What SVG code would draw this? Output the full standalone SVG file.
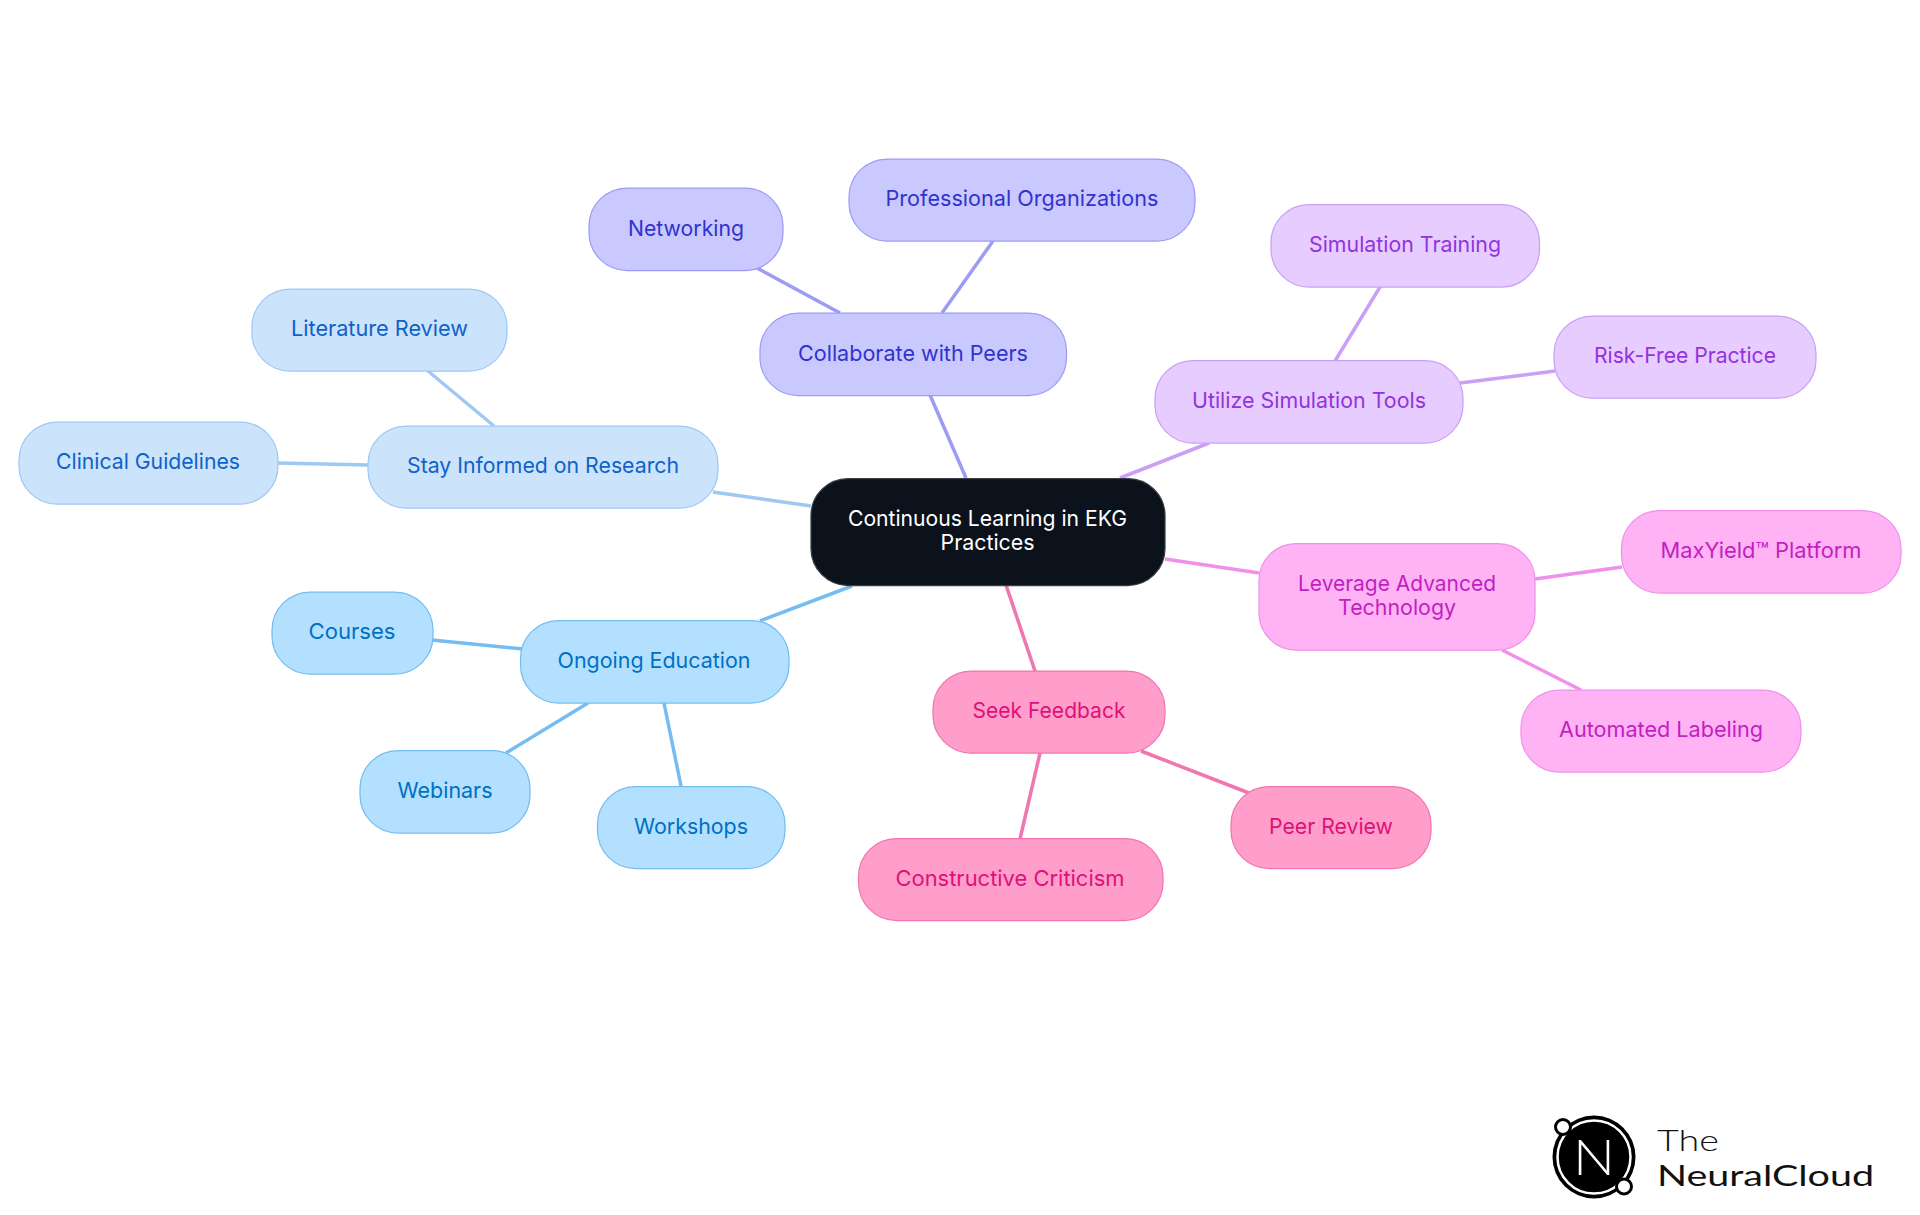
<svg xmlns="http://www.w3.org/2000/svg" width="1920" height="1215" viewBox="0 0 1920 1215">
<style>
text{font-family:"Inter","Noto Sans",sans-serif;font-size:22px;text-anchor:middle;font-weight:380}
rect.b{stroke-width:1.25}
line{stroke-width:3.5;fill:none}
.ce rect{fill:#0b121b;stroke:#3a3f46}.ce text{fill:#fff}
.ed rect{fill:#b3e0ff;stroke:#75bdf0}.ed text{fill:#0070c4}
.re rect{fill:#cce3fc;stroke:#9fc8f3}.re text{fill:#0f62c9}
.co rect{fill:#c9c9ff;stroke:#9c9cf5}.co text{fill:#3232cd}
.si rect{fill:#e6ccff;stroke:#c9a0f5}.si text{fill:#9333dd}
.te rect{fill:#ffb3f5;stroke:#f090ea}.te text{fill:#c21fc2}
.fe rect{fill:#ff9ecb;stroke:#f075b0}.fe text{fill:#e0107a}
.l-ed{stroke:#75bdf0}.l-re{stroke:#9fc8f3}.l-co{stroke:#9c9cf5}.l-si{stroke:#c9a0f5}.l-te{stroke:#f090ea}.l-fe{stroke:#f075b0}
.w{font-family:"Lato",sans-serif;fill:#111;text-anchor:start}
</style>
<rect width="1920" height="1215" fill="#fff"/>
<g id="connectors">
<line class="l-ed" x1="760" y1="621" x2="852" y2="586"/><line class="l-ed" x1="432" y1="640" x2="523" y2="649"/><line class="l-ed" x1="588" y1="703" x2="506" y2="753"/><line class="l-ed" x1="664" y1="703" x2="681" y2="786"/>
<line class="l-re" x1="713" y1="492" x2="811" y2="506"/><line class="l-re" x1="428" y1="371" x2="494" y2="426"/><line class="l-re" x1="278" y1="463" x2="368" y2="465"/>
<line class="l-co" x1="930" y1="395" x2="966" y2="478"/><line class="l-co" x1="757" y1="268" x2="840" y2="313"/><line class="l-co" x1="993" y1="241" x2="942" y2="313"/>
<line class="l-si" x1="1120" y1="478" x2="1209" y2="443"/><line class="l-si" x1="1380" y1="287" x2="1335" y2="361"/><line class="l-si" x1="1460" y1="383" x2="1555" y2="371"/>
<line class="l-te" x1="1165" y1="559" x2="1259" y2="573"/><line class="l-te" x1="1535" y1="579" x2="1622" y2="567"/><line class="l-te" x1="1502" y1="650" x2="1581" y2="690"/>
<line class="l-fe" x1="1006" y1="585" x2="1035" y2="671"/><line class="l-fe" x1="1141" y1="751" x2="1249" y2="793"/><line class="l-fe" x1="1040" y1="753" x2="1020" y2="839"/>
</g>
<g id="center" class="ce"><rect class="b" x="811" y="478.500" width="354" height="107" rx="37"/><text x="987.5" y="526" textLength="279" lengthAdjust="spacingAndGlyphs">Continuous Learning in EKG</text><text x="987.5" y="550" textLength="94" lengthAdjust="spacingAndGlyphs">Practices</text></g>
<g id="stay-informed" class="re"><rect class="b" x="368" y="426" width="350" height="82" rx="38"/><text x="543" y="473" textLength="272" lengthAdjust="spacingAndGlyphs">Stay Informed on Research</text></g>
<g id="literature-review" class="re"><rect class="b" x="252" y="289" width="255" height="82" rx="38"/><text x="379.500" y="336" textLength="177" lengthAdjust="spacingAndGlyphs">Literature Review</text></g>
<g id="clinical-guidelines" class="re"><rect class="b" x="19" y="422" width="259" height="82" rx="38"/><text x="148" y="469" textLength="184" lengthAdjust="spacingAndGlyphs">Clinical Guidelines</text></g>
<g id="collaborate" class="co"><rect class="b" x="760" y="313" width="306.500" height="82.500" rx="38"/><text x="913" y="361" textLength="230" lengthAdjust="spacingAndGlyphs">Collaborate with Peers</text></g>
<g id="networking" class="co"><rect class="b" x="589" y="188" width="194" height="82.500" rx="38"/><text x="686" y="236" textLength="116" lengthAdjust="spacingAndGlyphs">Networking</text></g>
<g id="professional" class="co"><rect class="b" x="849" y="159" width="346" height="82" rx="38"/><text x="1022" y="206" textLength="273" lengthAdjust="spacingAndGlyphs">Professional Organizations</text></g>
<g id="utilize" class="si"><rect class="b" x="1155" y="360.500" width="308" height="82.500" rx="38"/><text x="1309" y="408" textLength="234" lengthAdjust="spacingAndGlyphs">Utilize Simulation Tools</text></g>
<g id="simulation-training" class="si"><rect class="b" x="1271" y="204.500" width="268.500" height="82.500" rx="38"/><text x="1405" y="252" textLength="192" lengthAdjust="spacingAndGlyphs">Simulation Training</text></g>
<g id="risk-free" class="si"><rect class="b" x="1554" y="316" width="262" height="82" rx="38"/><text x="1685" y="363" textLength="182" lengthAdjust="spacingAndGlyphs">Risk-Free Practice</text></g>
<g id="leverage" class="te"><rect class="b" x="1259" y="543.500" width="276" height="106.500" rx="37"/><text x="1397" y="591" textLength="198" lengthAdjust="spacingAndGlyphs">Leverage Advanced</text><text x="1397" y="615" textLength="118" lengthAdjust="spacingAndGlyphs">Technology</text></g>
<g id="maxyield" class="te"><rect class="b" x="1621.500" y="510.500" width="279.500" height="82.500" rx="38"/><text x="1761" y="558" textLength="201" lengthAdjust="spacingAndGlyphs">MaxYield™ Platform</text></g>
<g id="automated" class="te"><rect class="b" x="1521" y="690" width="280" height="82" rx="38"/><text x="1661" y="737" textLength="204" lengthAdjust="spacingAndGlyphs">Automated Labeling</text></g>
<g id="seek" class="fe"><rect class="b" x="933" y="671" width="232" height="82" rx="38"/><text x="1049" y="718" textLength="153" lengthAdjust="spacingAndGlyphs">Seek Feedback</text></g>
<g id="peer-review" class="fe"><rect class="b" x="1231" y="786.500" width="200" height="82" rx="38"/><text x="1331" y="834" textLength="124" lengthAdjust="spacingAndGlyphs">Peer Review</text></g>
<g id="constructive" class="fe"><rect class="b" x="858.500" y="838.500" width="304.500" height="82" rx="38"/><text x="1010" y="886" textLength="229" lengthAdjust="spacingAndGlyphs">Constructive Criticism</text></g>
<g id="ongoing" class="ed"><rect class="b" x="520.500" y="620.500" width="268.500" height="82.500" rx="38"/><text x="654" y="668" textLength="193" lengthAdjust="spacingAndGlyphs">Ongoing Education</text></g>
<g id="courses" class="ed"><rect class="b" x="272" y="592" width="161" height="82" rx="38"/><text x="352" y="639" textLength="87" lengthAdjust="spacingAndGlyphs">Courses</text></g>
<g id="webinars" class="ed"><rect class="b" x="360" y="750.500" width="170" height="82.500" rx="38"/><text x="445" y="798" textLength="95" lengthAdjust="spacingAndGlyphs">Webinars</text></g>
<g id="workshops" class="ed"><rect class="b" x="597.500" y="786.500" width="187.500" height="82" rx="38"/><text x="691" y="834" textLength="114" lengthAdjust="spacingAndGlyphs">Workshops</text></g>
<g id="logo">
<circle cx="1594" cy="1157" r="41.500" fill="#000"/><circle cx="1594" cy="1157" r="36.500" fill="none" stroke="#fff" stroke-width="2.500"/>
<circle cx="1563" cy="1127" r="7.500" fill="#fff" stroke="#000" stroke-width="3"/><circle cx="1624" cy="1186.500" r="7.500" fill="#fff" stroke="#000" stroke-width="3"/>
<text x="1594" y="1175" style="font-family:'Lato',sans-serif;font-size:49px;font-weight:300;fill:#fff" textLength="42" lengthAdjust="spacingAndGlyphs">N</text>
<text class="w" x="1657" y="1151" style="font-size:30px;font-weight:300" textLength="62" lengthAdjust="spacingAndGlyphs">The</text>
<text class="w" x="1657" y="1186" style="font-size:29px;font-weight:400" textLength="217" lengthAdjust="spacingAndGlyphs">NeuralCloud</text>
</g>
</svg>
